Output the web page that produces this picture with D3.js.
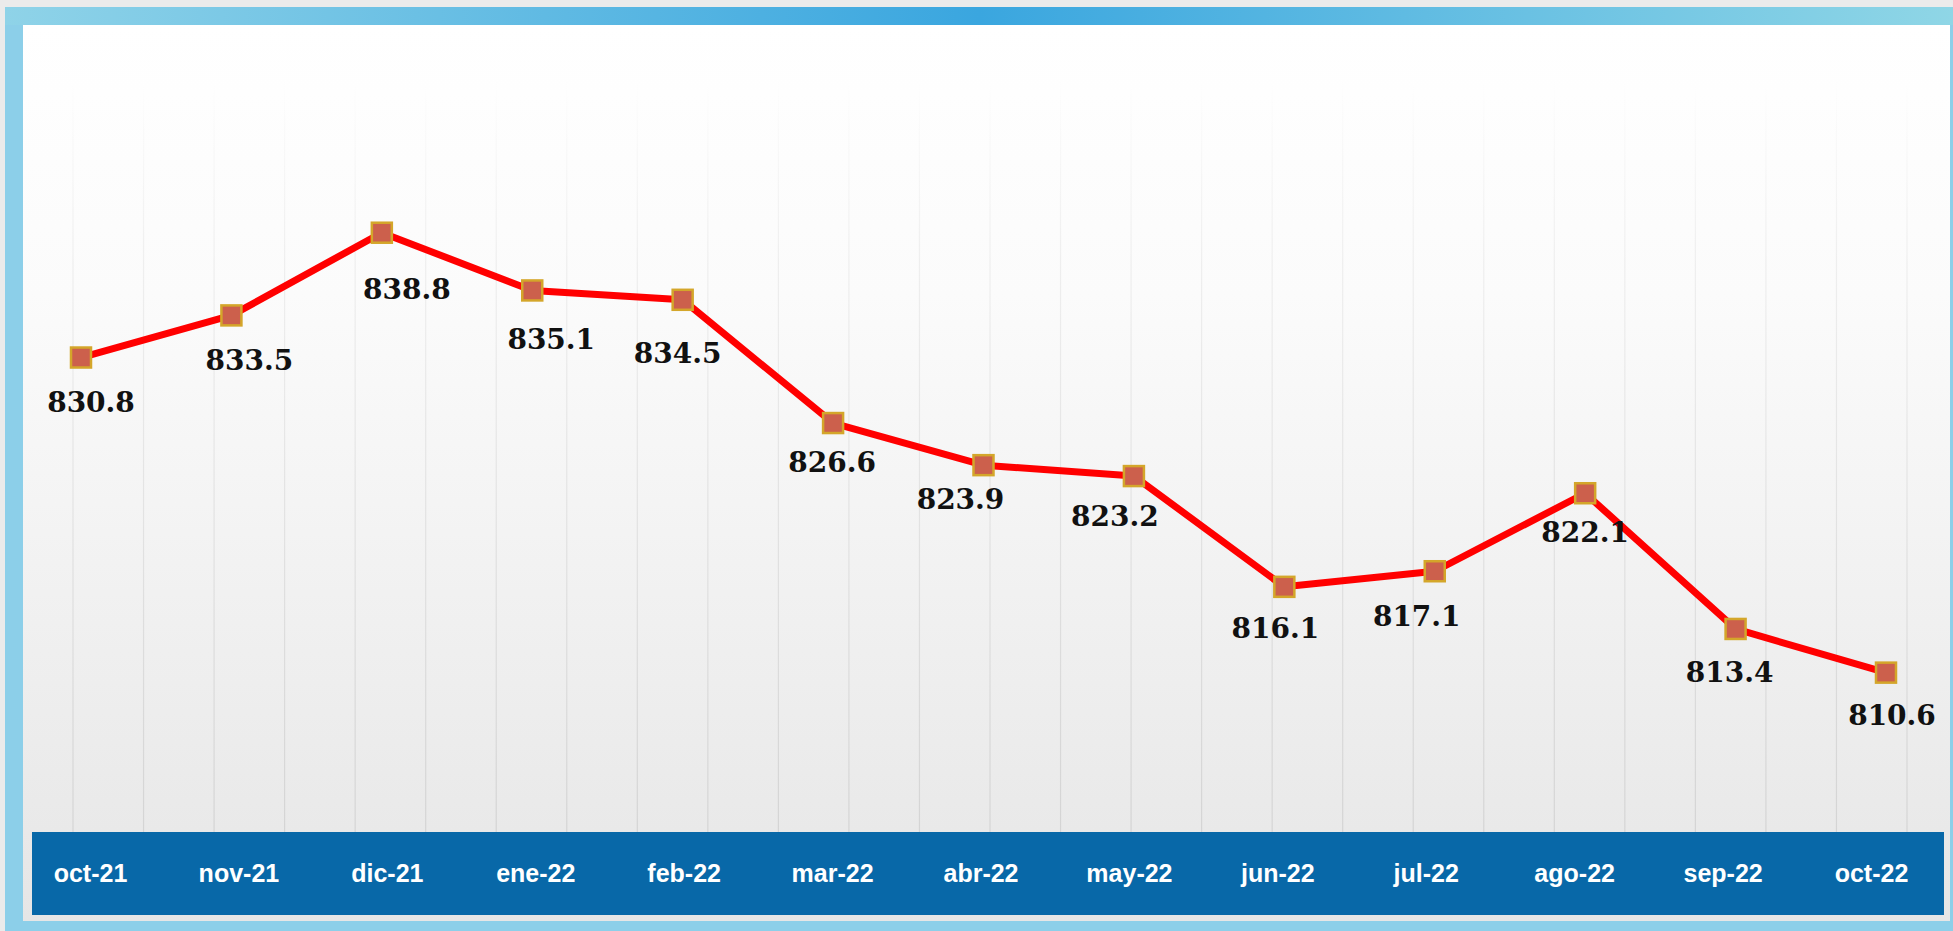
<!DOCTYPE html>
<html>
<head>
<meta charset="utf-8">
<script src="https://cdn.jsdelivr.net/npm/d3@7"></script>
<style>
  html, body { margin: 0; padding: 0; background: #ebebeb; overflow: hidden; }
  svg { display: block; }
</style>
</head>
<body>
<script>
    var width = 1953, height = 931;

    /* data */
    var months = ["oct-21", "nov-21", "dic-21", "ene-22", "feb-22", "mar-22", "abr-22",
                  "may-22", "jun-22", "jul-22", "ago-22", "sep-22", "oct-22"];
    var values = [830.8, 833.5, 838.8, 835.1, 834.5, 826.6, 823.9,
                  823.2, 816.1, 817.1, 822.1, 813.4, 810.6];
    var labels = ["830.8", "833.5", "838.8", "835.1", "834.5", "826.6", "823.9",
                  "823.2", "816.1", "817.1", "822.1", "813.4", "810.6"];

    /* manual label nudges (px), like the hand-placed labels in the original */
    var labelDx = [10, 18, 25, 19, -5, -1, -23, -19, -9, -18, 0, -6, 6];
    var labelDy = [44, 45, 56, 49, 53, 39, 34, 40, 41, 45, 39, 43, 42];

    var svg = d3.select("body")
        .append("svg").attr("width", width).attr("height", height);

    var defs = svg.append("defs");

    var frameGrad = defs.append("linearGradient").attr("id", "frame")
        .attr("x1", "0").attr("x2", "1").attr("y1", "0").attr("y2", "0");
    frameGrad.append("stop").attr("offset", "0%").attr("stop-color", "#8fd3e8");
    frameGrad.append("stop").attr("offset", "50%").attr("stop-color", "#3aa6df");
    frameGrad.append("stop").attr("offset", "100%").attr("stop-color", "#8fd6e6");

    var panelGrad = defs.append("linearGradient").attr("id", "panel")
        .attr("x1", "0").attr("x2", "0").attr("y1", "0").attr("y2", "1");
    panelGrad.append("stop").attr("offset", "0%").attr("stop-color", "#ffffff");
    panelGrad.append("stop").attr("offset", "30%").attr("stop-color", "#fbfbfb");
    panelGrad.append("stop").attr("offset", "100%").attr("stop-color", "#e6e6e6");

    var gridGrad = defs.append("linearGradient").attr("id", "gridfade")
        .attr("gradientUnits", "userSpaceOnUse")
        .attr("x1", 0).attr("x2", 0).attr("y1", 80).attr("y2", 832);
    gridGrad.append("stop").attr("offset", "0%").attr("stop-color", "#dedede").attr("stop-opacity", 0);
    gridGrad.append("stop").attr("offset", "25%").attr("stop-color", "#dedede").attr("stop-opacity", 0.45);
    gridGrad.append("stop").attr("offset", "100%").attr("stop-color", "#d2d2d2").attr("stop-opacity", 0.9);

    /* frame */
    svg.append("rect").attr("x", 5).attr("y", 7).attr("width", width - 5).attr("height", height - 7)
        .style("fill", "#8ccfe9");
    svg.append("rect").attr("x", 5).attr("y", 7).attr("width", width - 5).attr("height", 18)
        .style("fill", "url(#frame)");
    svg.append("rect").attr("x", 23).attr("y", 25).attr("width", 1927).attr("height", 896)
        .style("fill", "url(#panel)");

    /* scales */
    var x = d3.scalePoint().domain(months).range([81, 1886]);
    var y = d3.scaleLinear().domain([800, 850]).range([838, 58]);
    var xAxisScale = d3.scalePoint().domain(months).range([90, 1871]);
    var gx = d3.scaleLinear().domain([0, 26]).range([73, 1907]);

    /* background vertical lines */
    svg.append("g").selectAll("line")
        .data(d3.range(27))
        .enter().append("line")
        .attr("x1", function(d){ return gx(d); })
        .attr("x2", function(d){ return gx(d); })
        .attr("y1", 80).attr("y2", 832)
        .style("stroke", "url(#gridfade)")
        .style("stroke-width", 1.2);

    /* blue axis band */
    svg.append("rect").attr("x", 32).attr("y", 832).attr("width", 1912).attr("height", 83)
        .style("fill", "#0868a8");

    var axis = svg.append("g").attr("transform", "translate(0,873)")
        .call(d3.axisBottom(xAxisScale).tickSize(0).tickPadding(0));
    axis.select(".domain").remove();
    axis.selectAll("text")
        .attr("dy", "0.35em")
        .style("fill", "#ffffff")
        .style("font-family", "'Liberation Sans', Arial, sans-serif")
        .style("font-weight", "bold")
        .style("font-size", "25px");

    /* line */
    var pts = months.map(function(m, i){ return { m: m, v: values[i], label: labels[i], i: i }; });

    var line = d3.line()
        .x(function(d){ return x(d.m); })
        .y(function(d){ return y(d.v); });

    svg.append("path")
        .datum(pts)
        .attr("d", line)
        .style("fill", "none")
        .style("stroke", "#ff0000")
        .style("stroke-width", 7)
        .style("stroke-linejoin", "round")
        .style("stroke-linecap", "round");

    /* markers */
    var ms = 20;
    svg.append("g").selectAll("rect")
        .data(pts)
        .enter().append("rect")
        .attr("x", function(d){ return x(d.m) - ms / 2; })
        .attr("y", function(d){ return y(d.v) - ms / 2; })
        .attr("width", ms).attr("height", ms)
        .style("fill", "#cc604c")
        .style("stroke", "#d4a62a")
        .style("stroke-width", 2.5);

    /* value labels */
    svg.append("g").selectAll("text")
        .data(pts)
        .enter().append("text")
        .attr("x", function(d){ return x(d.m) + labelDx[d.i]; })
        .attr("y", function(d){ return y(d.v) + labelDy[d.i] + 10; })
        .attr("text-anchor", "middle")
        .style("font-family", "'DejaVu Serif', Georgia, serif")
        .style("font-weight", "bold")
        .style("font-size", "28px")
        .style("fill", "#111111")
        .text(function(d){ return d.label; });
</script>
</body>
</html>
